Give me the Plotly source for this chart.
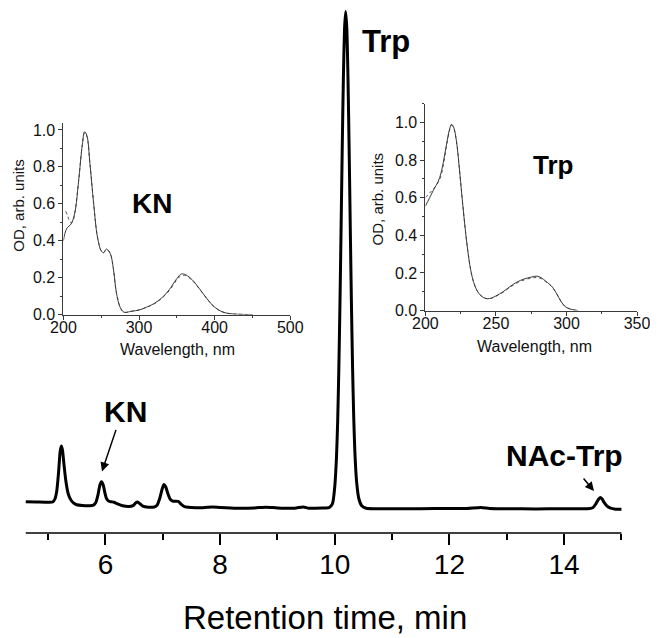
import plotly.graph_objects as go

# ---------------- data ----------------
# HPLC chromatogram (retention time, min ; relative signal, Trp peak = 100)
rt_min = [4.61, 4.80, 5.00, 5.08, 5.12, 5.15, 5.18, 5.21, 5.23, 5.25, 5.28, 5.31, 5.35, 5.40,
          5.45, 5.50, 5.60, 5.70, 5.78, 5.83, 5.87, 5.90, 5.93, 5.96, 5.99, 6.02, 6.06, 6.10,
          6.15, 6.20, 6.30, 6.40, 6.48, 6.53, 6.56, 6.60, 6.65, 6.75, 6.85, 6.90, 6.95, 6.99,
          7.02, 7.05, 7.09, 7.13, 7.18, 7.23, 7.27, 7.32, 7.38, 7.50, 7.70, 7.87, 8.00, 8.30,
          8.60, 8.80, 9.00, 9.30, 9.45, 9.55, 9.80, 9.90, 9.96, 10.00, 10.03, 10.05, 10.07,
          10.09, 10.11, 10.13, 10.15, 10.17, 10.19, 10.21, 10.23, 10.25, 10.27, 10.29, 10.31,
          10.33, 10.35, 10.38, 10.42, 10.47, 10.55, 10.70, 11.00, 11.50, 12.00, 12.30, 12.55,
          12.70, 13.00, 13.50, 14.00, 14.40, 14.50, 14.55, 14.60, 14.63, 14.66, 14.70, 14.75,
          14.80, 14.90, 15.00]
signal = [1.40, 1.35, 1.30, 1.35, 2.0, 3.5, 7.0, 11.5, 12.6, 11.8, 8.5, 5.5, 3.0, 1.7,
          1.1, 0.8, 0.65, 0.6, 0.65, 1.2, 2.8, 4.6, 5.4, 4.8, 3.2, 2.0, 1.5, 1.4,
          1.3, 1.0, 0.6, 0.45, 0.6, 1.2, 1.35, 1.0, 0.5, 0.3, 0.35, 0.7, 2.2, 4.0,
          4.85, 4.4, 3.0, 1.9, 1.5, 1.5, 1.45, 0.9, 0.4, 0.25, 0.2, 0.35, 0.25, 0.1,
          0.15, 0.3, 0.15, 0.1, 0.35, 0.1, 0.15, 0.2, 1.0, 4.5, 10.5, 17.5, 27.8,
          41.0, 56.6, 72.6, 86.7, 96.5, 100.0, 96.5, 86.7, 72.6, 56.6, 41.5, 28.5,
          18.5, 11.5, 5.5, 2.0, 0.6, 0.1, 0.0, 0.0, 0.0, 0.05, 0.05, 0.25,
          0.05, 0.0, -0.05, 0.0, 0.0, 0.2, 0.9, 1.9, 2.25, 2.0, 1.2, 0.5,
          0.15, -0.1, -0.1]

# KN absorption spectra (solid: peak, dotted: standard)
kn_wl = [200, 202, 205, 210, 215, 220, 225, 228, 231, 235, 240, 245, 250, 253, 257, 262,
         266, 270, 275, 280, 290, 300, 310, 320, 330, 340, 350, 356, 362, 370, 380, 390,
         400, 410, 420, 430, 450]
kn_od = [0.40, 0.44, 0.47, 0.49, 0.55, 0.72, 0.92, 0.99, 0.97, 0.82, 0.60, 0.42, 0.345,
         0.335, 0.355, 0.33, 0.25, 0.12, 0.04, 0.013, 0.018, 0.025, 0.04, 0.06, 0.09, 0.135,
         0.195, 0.22, 0.215, 0.19, 0.14, 0.085, 0.04, 0.015, 0.005, 0.002, 0.0]
kn_wl_ref = [203, 206, 209, 212, 215, 220, 225, 228, 231, 235, 240, 245, 250, 253, 257, 262,
             266, 270, 275, 280, 290, 300, 310, 320, 330, 340, 350, 356, 362, 370, 380, 390,
             400, 410, 420, 430, 450]
kn_od_ref = [0.56, 0.53, 0.50, 0.50, 0.55, 0.72, 0.92, 0.985, 0.965, 0.82, 0.60, 0.42, 0.345,
             0.335, 0.352, 0.33, 0.25, 0.12, 0.04, 0.013, 0.018, 0.025, 0.04, 0.058, 0.088,
             0.13, 0.188, 0.212, 0.21, 0.186, 0.138, 0.085, 0.04, 0.015, 0.005, 0.002, 0.0]

# Trp absorption spectra
trp_wl = [200, 203, 206, 209, 211, 213, 215, 217, 218.5, 220, 222, 224, 226, 228, 230, 232,
          234, 236, 238, 241, 244, 247, 250, 255, 260, 265, 270, 275, 279, 282, 285, 288,
          290, 293, 296, 299, 302, 305, 308]
trp_od = [0.555, 0.60, 0.645, 0.685, 0.73, 0.80, 0.885, 0.96, 0.99, 0.975, 0.90, 0.76, 0.60,
          0.45, 0.32, 0.22, 0.155, 0.115, 0.09, 0.07, 0.063, 0.067, 0.078, 0.10, 0.128, 0.152,
          0.168, 0.178, 0.183, 0.175, 0.158, 0.14, 0.125, 0.09, 0.05, 0.022, 0.01, 0.004, 0.001]
trp_wl_ref = [200, 203, 206, 209, 211, 213, 215, 217, 218.5, 220, 222, 224, 226, 228, 230, 232,
              234, 236, 238, 241, 244, 247, 250, 255, 260, 265, 270, 275, 279, 282, 285, 288,
              290, 293, 296, 299, 302, 305, 308]
trp_od_ref = [0.60, 0.625, 0.65, 0.68, 0.715, 0.785, 0.875, 0.955, 0.985, 0.97, 0.90, 0.76, 0.60,
              0.45, 0.32, 0.22, 0.155, 0.115, 0.09, 0.07, 0.063, 0.066, 0.076, 0.097, 0.124,
              0.147, 0.163, 0.172, 0.176, 0.17, 0.155, 0.138, 0.123, 0.09, 0.05, 0.022, 0.01,
              0.004, 0.001]

main_ticks = [6, 8, 10, 12, 14]
kn_xticks = [200, 300, 400, 500]
trp_xticks = [200, 250, 300, 350]
od_ticks = [0.0, 0.2, 0.4, 0.6, 0.8, 1.0]

# ---------------- layout geometry ----------------
# the page body adds an 8 px offset, so the figure is 650x630 and
# positions below are given in window pixels (then shifted by OFF)
OFF = 8
W, H = 650, 630
L, R, T, B = 12, 640, 0, 524.7
PW, PH = R - L, B - T


def px(xw):
    return (xw - OFF - L) / PW


def py(yw):
    return (B - (yw - OFF)) / PH


FONT = "Arial, Liberation Sans, sans-serif"
INK = "#000000"
GREY = "#3a3a3a"

fig = go.Figure()
fig.add_trace(go.Scatter(x=rt_min, y=signal, mode="lines", xaxis="x", yaxis="y",
                         line=dict(color=INK, width=3, shape="spline", smoothing=0.6),
                         showlegend=False, hoverinfo="skip"))
fig.add_trace(go.Scatter(x=kn_wl_ref, y=kn_od_ref, mode="lines", xaxis="x2", yaxis="y2",
                         line=dict(color="#555555", width=1, dash="dot", shape="spline"),
                         showlegend=False))
fig.add_trace(go.Scatter(x=kn_wl, y=kn_od, mode="lines", xaxis="x2", yaxis="y2",
                         line=dict(color=GREY, width=1, shape="spline"), showlegend=False))
fig.add_trace(go.Scatter(x=trp_wl_ref, y=trp_od_ref, mode="lines", xaxis="x3", yaxis="y3",
                         line=dict(color="#555555", width=1, dash="dot", shape="spline"),
                         showlegend=False))
fig.add_trace(go.Scatter(x=trp_wl, y=trp_od, mode="lines", xaxis="x3", yaxis="y3",
                         line=dict(color=GREY, width=1, shape="spline"), showlegend=False))

inset_axis = dict(showline=True, linecolor=GREY, linewidth=1, ticks="outside", ticklen=4,
                  tickwidth=1, tickcolor=GREY, showgrid=False, zeroline=False,
                  tickfont=dict(family=FONT, size=16, color="#111111"))

fig.update_layout(
    width=W, height=H,
    margin=dict(l=L, r=W - R, t=T, b=H - B),
    paper_bgcolor="white", plot_bgcolor="rgba(0,0,0,0)",
    font=dict(family=FONT, color=INK),
    showlegend=False,
    xaxis=dict(range=[6 - 85 / 57.7, 6 + 543 / 57.7], showline=False, showgrid=False,
               zeroline=False, ticks="outside", ticklen=11, tickwidth=1.5, tickcolor=INK,
               tickvals=main_ticks, ticktext=[str(v) for v in main_ticks],
               ticklabelstandoff=-5,
               tickfont=dict(family=FONT, size=28, color=INK),
               minor=dict(tickvals=[5, 7, 9, 11, 13, 15], ticklen=6, tickwidth=1.5,
                          tickcolor=INK, ticks="outside")),
    yaxis=dict(range=[-4.89, 100.5], visible=False),
    xaxis2=dict(inset_axis, domain=[px(62.7), px(291)], anchor="y2", range=[200, 500],
                tickvals=kn_xticks, ticklabelstandoff=-6,
                minor=dict(dtick=50, tick0=0, ticklen=2, ticks="outside", tickcolor=GREY)),
    yaxis2=dict(inset_axis, domain=[py(314), py(121.7)], anchor="x2", range=[0, 1.04],
                tickvals=od_ticks, tickformat=".1f",
                minor=dict(dtick=0.1, tick0=0, ticklen=2, ticks="outside", tickcolor=GREY)),
    xaxis3=dict(inset_axis, domain=[px(427), px(640)], anchor="y3", range=[200, 350],
                tickvals=trp_xticks, ticklabelstandoff=-6,
                minor=dict(dtick=25, tick0=0, ticklen=2, ticks="outside", tickcolor=GREY)),
    yaxis3=dict(inset_axis, domain=[py(310), py(102.7)], anchor="x3", range=[0, 1.1],
                tickvals=od_ticks, tickformat=".1f",
                minor=dict(dtick=0.1, tick0=0, ticklen=2, ticks="outside", tickcolor=GREY)),
)

# main axis line (ends at 15 min like the original)
fig.add_shape(type="line", xref="x", yref="paper", x0=4.61, x1=15.0, y0=0, y1=0,
              line=dict(color=INK, width=1.5))


def label(text, x, y, size, bold=False, angle=0, color=INK):
    fig.add_annotation(text=("<b>%s</b>" % text) if bold else text, xref="paper", yref="paper",
                       x=px(x), y=py(y), xanchor="center", yanchor="middle", showarrow=False,
                       textangle=angle, font=dict(family=FONT, size=size, color=color))


label("Retention time, min", 326, 617, 33)
label("Trp", 387, 41, 31, bold=True)
label("KN", 125, 411, 30, bold=True)
label("NAc-Trp", 567, 455, 30, bold=True)
label("KN", 152, 203, 28, bold=True)
label("Trp", 555, 164, 26, bold=True)
label("OD, arb. units", 18, 205, 15, angle=-90, color="#111111")
label("Wavelength, nm", 177, 349, 16, color="#111111")
label("OD, arb. units", 379, 198, 15, angle=-90, color="#111111")
label("Wavelength, nm", 537, 346, 16, color="#111111")

# arrows pointing to the KN and NAc-Trp peaks
for tip, tail in [((101.5, 471), (116, 428)), ((596.7, 490.7), (585, 476.7))]:
    fig.add_annotation(text="", xref="paper", yref="paper", x=px(tip[0]), y=py(tip[1]),
                       ax=tail[0] - tip[0], ay=tail[1] - tip[1], axref="pixel", ayref="pixel",
                       showarrow=True, arrowhead=2, arrowsize=1.2, arrowwidth=1.5,
                       arrowcolor=INK, standoff=0)

fig.write_html("out.html")
